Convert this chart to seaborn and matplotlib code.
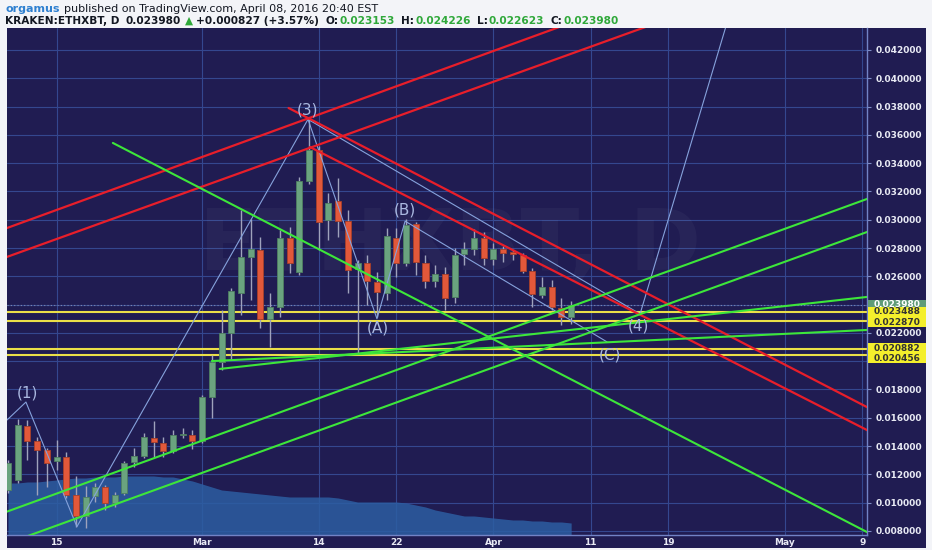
import numpy as np
import matplotlib
matplotlib.use("Agg")
import matplotlib.pyplot as plt
from matplotlib.patches import Rectangle
import seaborn as sns

# KRAKEN:ETHXBT daily bars, bar index 0 = Feb 10 2016 ... 58 = Apr 9 2016
bar_open = [0.01089, 0.01160, 0.01542, 0.01436, 0.01373, 0.01294, 0.01323, 0.01054, 0.00906, 0.01047,
            0.01110, 0.00997, 0.01068, 0.01287, 0.01330, 0.01457, 0.01422, 0.01365, 0.01478, 0.01478,
            0.01436, 0.01747, 0.01994, 0.02199, 0.02482, 0.02737, 0.02786, 0.02298, 0.02383, 0.02871,
            0.02630, 0.03274, 0.03493, 0.02998, 0.03132, 0.02991, 0.02652, 0.02694, 0.02560, 0.02482,
            0.02871, 0.02694, 0.02970, 0.02694, 0.02567, 0.02616, 0.02454, 0.02758, 0.02793, 0.02871,
            0.02722, 0.02793, 0.02772, 0.02751, 0.02638, 0.02468, 0.02524, 0.02376, 0.023153]
bar_high = [0.01300, 0.01591, 0.01584, 0.01464, 0.01386, 0.01443, 0.01358, 0.01188, 0.01118, 0.01139,
            0.01125, 0.01075, 0.01294, 0.01386, 0.01492, 0.01577, 0.01464, 0.01514, 0.01528, 0.01514,
            0.01761, 0.02044, 0.02362, 0.02517, 0.03069, 0.03005, 0.02878, 0.02482, 0.02927, 0.02949,
            0.03302, 0.03710, 0.03520, 0.03189, 0.03295, 0.03069, 0.02715, 0.02751, 0.02630, 0.02942,
            0.02942, 0.03005, 0.02984, 0.02751, 0.02680, 0.02666, 0.02800, 0.02843, 0.02934, 0.02913,
            0.02836, 0.02814, 0.02786, 0.02765, 0.02659, 0.02595, 0.02574, 0.02447, 0.024226]
bar_low = [0.01070, 0.01139, 0.01301, 0.01054, 0.01110, 0.01231, 0.01033, 0.00828, 0.00821, 0.01005,
           0.00948, 0.00969, 0.01054, 0.01252, 0.01316, 0.01323, 0.01323, 0.01351, 0.01457, 0.01380,
           0.01422, 0.01598, 0.01938, 0.02008, 0.02326, 0.02433, 0.02235, 0.02100, 0.02312, 0.02623,
           0.02609, 0.03253, 0.02786, 0.02857, 0.02878, 0.02482, 0.02058, 0.02397, 0.02312, 0.02433,
           0.02595, 0.02673, 0.02609, 0.02517, 0.02524, 0.02362, 0.02411, 0.02680, 0.02751, 0.02680,
           0.02680, 0.02701, 0.02715, 0.02623, 0.02383, 0.02447, 0.02362, 0.02256, 0.022623]
bar_close = [0.01280, 0.01549, 0.01436, 0.01373, 0.01280, 0.01323, 0.01054, 0.00906, 0.01040, 0.01110,
             0.00997, 0.01054, 0.01280, 0.01330, 0.01464, 0.01429, 0.01365, 0.01478, 0.01485, 0.01436,
             0.01747, 0.01994, 0.02199, 0.02496, 0.02737, 0.02793, 0.02298, 0.02383, 0.02871, 0.02694,
             0.03274, 0.03493, 0.02984, 0.03118, 0.02991, 0.02645, 0.02694, 0.02567, 0.02489, 0.02885,
             0.02694, 0.02963, 0.02701, 0.02567, 0.02616, 0.02447, 0.02751, 0.02793, 0.02871, 0.02730,
             0.02793, 0.02765, 0.02758, 0.02638, 0.02475, 0.02524, 0.02383, 0.02312, 0.023980]
# volume moving average (area at the bottom), arbitrary units
vol_ma = [52, 52, 53, 53, 54, 55, 56, 57, 57, 58, 58, 58, 59, 59, 59, 59, 58, 58, 56, 54,
          51, 48, 45, 44, 43, 42, 41, 40, 39, 38, 38, 38, 38, 38, 37, 35, 33, 33, 33, 33,
          33, 32, 30, 28, 25, 23, 21, 19, 19, 18, 17, 16, 15, 15, 14, 14, 13, 13, 12]
vol_axis_top = 507

date_ticks = [5, 20, 32, 40, 50, 60, 68, 80, 88]
date_labels = ["15", "Mar", "14", "22", "Apr", "11", "19", "May", "9"]
price_ticks = [round(0.008 + 0.002 * i, 3) for i in range(18)]
hidden_ticks = [0.020, 0.024]   # covered by the price boxes on the chart

# hand drawn lines: (bar index, price)
red_lines = [[(-1, 0.02919), (60, 0.04443)],
             [(-1, 0.02715), (70, 0.04470)],
             [(28.9, 0.03790), (92, 0.01550)],
             [(31.1, 0.03514), (92, 0.01390)]]
green_lines = [[(10.8, 0.03543), (92, 0.00667)],
               [(-1, 0.00914), (92, 0.03235)],
               [(2, 0.00763), (92, 0.03001)],
               [(21.0, 0.02001), (92, 0.02232)],
               [(21.8, 0.01945), (92, 0.02481)]]
yellow_levels = [0.023488, 0.022870, 0.020882, 0.020456]
wave_path = [(-0.1, 0.01584), (1.85, 0.01711), (7.1, 0.00830), (30.9, 0.03710),
             (38.0, 0.02300), (40.9, 0.02990), (61.7, 0.02136)]
wave_path2 = [(30.9, 0.03710), (65.1, 0.02334), (75.0, 0.04610)]
wave_labels = [("(1)", 2.0, 0.01775), ("(3)", 30.8, 0.03776), ("(A)", 38.1, 0.02235),
               ("(B)", 40.9, 0.03069), ("(C)", 62.0, 0.02044), ("(4)", 64.9, 0.02249)]
last_price = 0.023980
box_labels = [(0.023980, 0.0, "#5f9b78", "white"),
              (0.023488, 0.0, "#f4ef2c", "#333333"),
              (0.022870, -1.5, "#f4ef2c", "#333333"),
              (0.020882, 0.3, "#f4ef2c", "#333333"),
              (0.020456, -3.3, "#f4ef2c", "#333333")]

NAVY = "#201c52"
GRID = "#34478f"
W, H = 932, 550

sns.set_theme(style="dark", rc={"axes.facecolor": NAVY, "figure.facecolor": "#f3f4f8"})
plt.rcParams["font.family"] = ["DejaVu Sans"]

fig = plt.figure(figsize=(W / 100, H / 100), dpi=100)
fig.patches.append(Rectangle((7 / W, 2 / H), 919 / W, 520 / H, transform=fig.transFigure,
                             facecolor=NAVY, edgecolor="none", zorder=-10))
ax = fig.add_axes([7 / W, 15 / H, 860 / W, 507 / H])
ax.set_zorder(1)
ax.set_facecolor(NAVY)

x = np.arange(len(bar_open))
o = np.array(bar_open)
c = np.array(bar_close)
up = c >= o

# volume area
ax.fill_between(x, 0, np.array(vol_ma) / vol_axis_top, transform=ax.get_xaxis_transform(),
                color="#2c5ea2", alpha=0.85, lw=0, zorder=1)

ax.text(0.515, 0.57, "ETHXBT, D", transform=ax.transAxes, fontsize=62, fontweight="bold",
        color="white", alpha=0.035, ha="center", va="center", zorder=0.8)

for lvl in yellow_levels:
    ax.axhline(lvl, color="#ebdf48", lw=1.5, zorder=2)
ax.axhline(last_price, color="#8088ad", lw=0.8, ls=(0, (1, 2)), zorder=2)

# candles
ax.vlines(x, bar_low, bar_high, color="#9fa2bc", lw=1, zorder=3)
body = np.maximum(np.abs(c - o), 0.00006)
ax.bar(x, body, bottom=np.minimum(o, c), width=0.62,
       color=np.where(up, "#6aa37f", "#e2583a"), edgecolor=np.where(up, "#4f7f61", "#a8402a"),
       lw=0.6, zorder=4)

for line in red_lines:
    sns.lineplot(x=[p[0] for p in line], y=[p[1] for p in line], sort=False, estimator=None,
                 color="#e81e2a", lw=1.6, ax=ax, zorder=6)
for line in green_lines:
    sns.lineplot(x=[p[0] for p in line], y=[p[1] for p in line], sort=False, estimator=None,
                 color="#3de63a", lw=1.5, ax=ax, zorder=6)
for path in (wave_path, wave_path2):
    sns.lineplot(x=[p[0] for p in path], y=[p[1] for p in path], sort=False, estimator=None,
                 color="#86a2dc", lw=0.8, ax=ax, zorder=5)
for txt, bx, by in wave_labels:
    ax.text(bx, by, txt, color="#aab8e0", fontsize=11, ha="center", va="center", zorder=7)

ax.set_xlim(-0.1, 88.47)
ax.set_ylim(0.007711, 0.043555)
ax.set_xticks(date_ticks)
ax.set_xticklabels(date_labels)
ax.set_yticks(price_ticks)
ax.set_yticklabels(["" if v in hidden_ticks else f"{v:.6f}" for v in price_ticks])
ax.yaxis.tick_right()
ax.set_axisbelow(True)
ax.grid(True, color=GRID, lw=0.8)
ax.tick_params(axis="y", length=3, width=0.8, color="#7d8cc4", pad=3, labelsize=6.5,
               labelcolor="#e8eaf4")
ax.tick_params(axis="x", length=0, pad=2.5, labelsize=6.5, labelcolor="#e8eaf4")
for lab in ax.get_xticklabels() + ax.get_yticklabels():
    lab.set_fontweight("bold")
for side in ("left", "top"):
    ax.spines[side].set_visible(False)
for side in ("right", "bottom"):
    ax.spines[side].set_visible(True)
    ax.spines[side].set_color("#7283c6")
    ax.spines[side].set_linewidth(1)
ax.set_xlabel("")
ax.set_ylabel("")

# price boxes on the right scale
px = (0.043555 - 0.007711) / 507
for val, nudge, fc, tc in box_labels:
    yc = val + nudge * px
    ax.add_patch(Rectangle((1 + 1 / 860, yc - 5 * px), 58 / 860, 10 * px,
                           transform=ax.get_yaxis_transform(), facecolor=fc, edgecolor="none",
                           clip_on=False, zorder=10))
    ax.text(1 + 30 / 860, yc, f"{val:.6f}", transform=ax.get_yaxis_transform(), ha="center",
            va="center", fontsize=6.5, fontweight="bold", color=tc, clip_on=False, zorder=11)

# header
renderer = fig.canvas.get_renderer()


def chain_text(parts, x_px, y_px, size):
    for s, color, weight, gap in parts:
        t = fig.text(x_px / W, 1 - y_px / H, s, color=color, fontsize=size, fontweight=weight,
                     ha="left", va="center")
        x_px += t.get_window_extent(renderer=renderer).width + gap


DARK = "#131722"
GREEN = "#2fa83a"
chain_text([("orgamus", "#2f80d0", "bold", 4),
            ("published on TradingView.com, April 08, 2016 20:40 EST", DARK, "normal", 0)],
           5, 9, 8)
chain_text([("KRAKEN:ETHXBT, D", DARK, "bold", 6), ("0.023980", DARK, "bold", 4),
            ("▲", GREEN, "bold", 3), ("+0.000827 (+3.57%)", DARK, "bold", 7),
            ("O:", DARK, "bold", 1), ("0.023153", GREEN, "bold", 6),
            ("H:", DARK, "bold", 1), ("0.024226", GREEN, "bold", 6),
            ("L:", DARK, "bold", 1), ("0.022623", GREEN, "bold", 6),
            ("C:", DARK, "bold", 1), ("0.023980", GREEN, "bold", 0)],
           5, 21, 7.6)

fig.savefig("out.png", dpi=100, facecolor=fig.get_facecolor())
